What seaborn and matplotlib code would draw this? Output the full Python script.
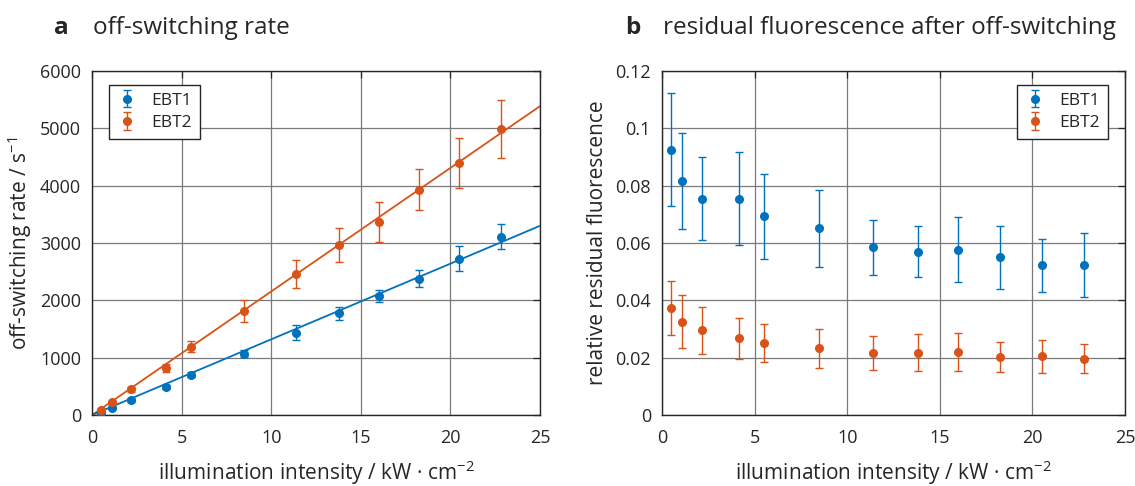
import numpy as np
import pandas as pd
import seaborn as sns
import matplotlib.pyplot as plt

intensity = [0.5, 1.1, 2.15, 4.15, 5.5, 8.5, 11.4, 13.8, 16.0, 18.25, 20.5, 22.8]

rate_ebt1 = [40, 127, 262, 483, 703, 1070, 1437, 1774, 2077, 2373, 2728, 3112]
rate_ebt1_err = [20, 25, 30, 35, 40, 61, 125, 113, 110, 148, 212, 218]
rate_ebt2 = [87, 221, 448, 820, 1192, 1815, 2461, 2967, 3363, 3932, 4398, 4991]
rate_ebt2_err = [20, 30, 40, 70, 100, 195, 245, 290, 350, 360, 430, 510]

# slopes of the linear fits (s^-1 per kW/cm^2)
slope_ebt1 = 132.0
slope_ebt2 = 215.5

resid_ebt1 = [0.0926, 0.0817, 0.0755, 0.0754, 0.0693, 0.0651, 0.0585, 0.0570, 0.0577, 0.0550, 0.0522, 0.0523]
resid_ebt1_err = [0.0196, 0.0167, 0.0144, 0.0162, 0.0148, 0.0134, 0.0096, 0.0088, 0.0112, 0.0111, 0.0093, 0.0113]
resid_ebt2 = [0.0373, 0.0325, 0.0295, 0.0267, 0.0252, 0.0232, 0.0215, 0.0217, 0.0220, 0.0202, 0.0205, 0.0197]
resid_ebt2_err = [0.0093, 0.0093, 0.0082, 0.0071, 0.0066, 0.0067, 0.0059, 0.0064, 0.0067, 0.0053, 0.0058, 0.0050]

blue = "#0072BD"
orange = "#D95319"

sns.set_theme(style="white")
plt.rcParams["font.family"] = ["Open Sans", "DejaVu Sans"]
plt.rcParams["mathtext.fontset"] = "custom"
plt.rcParams["mathtext.rm"] = "Open Sans"

fig = plt.figure(figsize=(11.35, 4.86), dpi=100)
ax1 = fig.add_axes([0.0811, 0.1461, 0.3947, 0.7078])
ax2 = fig.add_axes([0.5833, 0.1461, 0.4079, 0.7078])

fit = pd.DataFrame({"x": [0, 25]})
fit["EBT1"] = fit["x"] * slope_ebt1
fit["EBT2"] = fit["x"] * slope_ebt2
sns.lineplot(data=fit, x="x", y="EBT2", color=orange, lw=1.3, ax=ax1, legend=False)
sns.lineplot(data=fit, x="x", y="EBT1", color=blue, lw=1.3, ax=ax1, legend=False)

ebkw = dict(fmt="o", ms=5.5, capsize=3.2, elinewidth=1.0, capthick=1.0, zorder=3)
ax1.errorbar(intensity, rate_ebt1, yerr=rate_ebt1_err, color=blue, label="EBT1", **ebkw)
ax1.errorbar(intensity, rate_ebt2, yerr=rate_ebt2_err, color=orange, label="EBT2", **ebkw)
ax2.errorbar(intensity, resid_ebt1, yerr=resid_ebt1_err, color=blue, label="EBT1", **ebkw)
ax2.errorbar(intensity, resid_ebt2, yerr=resid_ebt2_err, color=orange, label="EBT2", **ebkw)

ax1.set_ylim(0, 6000)
ax1.set_yticks(range(0, 6001, 1000))
ax2.set_ylim(0, 0.12)
ax2.set_yticks([0, 0.02, 0.04, 0.06, 0.08, 0.1, 0.12])
ax2.set_yticklabels(["0", "0.02", "0.04", "0.06", "0.08", "0.1", "0.12"])

for ax in (ax1, ax2):
    ax.set_xlim(0, 25)
    ax.set_xticks(range(0, 26, 5))
    ax.grid(True, color="#7a7a7a", lw=0.9)
    ax.set_axisbelow(True)
    for s in ax.spines.values():
        s.set_color("#262626")
        s.set_linewidth(1.0)
    ax.tick_params(direction="in", length=5, width=0.9, top=True, right=True,
                   labelsize=13, color="#262626")
    ax.tick_params(axis="x", pad=10)
    ax.tick_params(axis="y", pad=8)
    ax.set_xlabel("illumination intensity / kW · cm$^{\\mathregular{-2}}$", fontsize=15, labelpad=8)

ax1.set_ylabel("off-switching rate / s$^{\\mathregular{-1}}$", fontsize=15, labelpad=4)
ax2.set_ylabel("relative residual fluorescence", fontsize=15, labelpad=5)

legkw = dict(fontsize=12.5, frameon=True, fancybox=False, edgecolor="#262626",
             framealpha=1, handlelength=1.2, borderpad=0.45, labelspacing=0.35)
lg1 = ax1.legend(loc="upper left", bbox_to_anchor=(0.018, 0.985), **legkw)
lg2 = ax2.legend(loc="upper right", bbox_to_anchor=(0.982, 0.985), **legkw)
for lg in (lg1, lg2):
    lg.get_frame().set_linewidth(1.0)

fig.text(0.048, 0.943, "a", fontsize=17.5, fontweight="bold", va="center")
fig.text(0.082, 0.943, "off-switching rate", fontsize=17.5, va="center")
fig.text(0.551, 0.943, "b", fontsize=17.5, fontweight="bold", va="center")
fig.text(0.584, 0.943, "residual fluorescence after off-switching", fontsize=17.5, va="center")

fig.savefig("out.png", dpi=100)
